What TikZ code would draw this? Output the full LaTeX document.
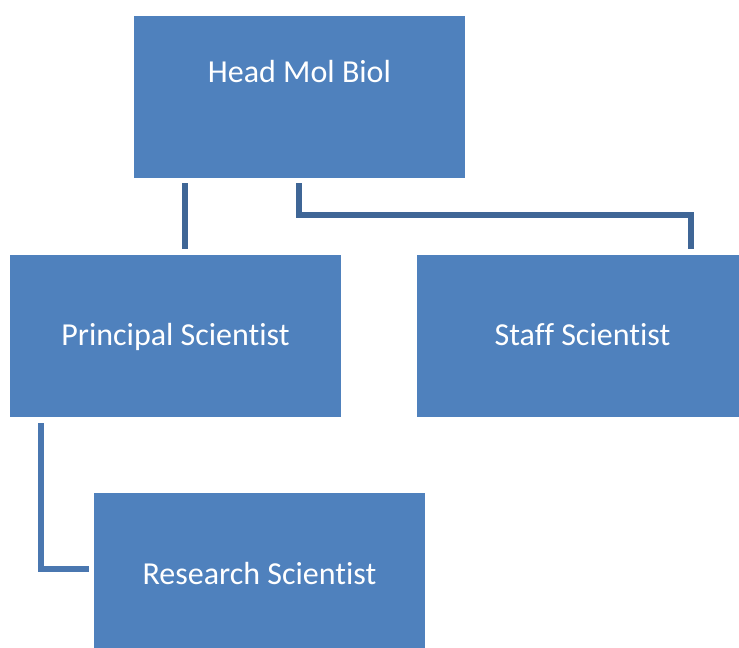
\documentclass[tikz,border=0pt]{standalone}
\usepackage{fontspec}
\setmainfont{Carlito}[Ligatures={NoCommon,NoRare,NoContextual}]
\definecolor{boxblue}{HTML}{4F81BD}
\definecolor{linedark}{HTML}{3F6696}
\definecolor{linelight}{HTML}{4A77B0}
\begin{document}
\begin{tikzpicture}[x=0.75pt,y=-0.75pt,
  orgbox/.style={fill=boxblue,draw=none},
  lbl/.style={text=white,font=\fontsize{24}{28}\selectfont,inner sep=0pt,anchor=base},
  conn/.style={line width=3.8pt,line join=miter}]
\useasboundingbox (0,0) rectangle (739,647);
\begin{scope}
\clip (0,0) rectangle (739,647);
\path[orgbox] (134,16) rectangle (465,178);
\path[orgbox] (10,255) rectangle (341,417);
\path[orgbox] (417,255) rectangle (748,417);
\path[orgbox] (94,493) rectangle (425,655);
\end{scope}
\node[lbl] (head) at (299.5,82) {Head Mol Biol};
\node[lbl] (prin) at (175.5,345) {Principal Scientist};
\node[lbl] (staff) at (582.5,345) {Staff Scientist};
\node[lbl] (res) at (259.5,584) {Research Scientist};
\coordinate (a1) at (185,183);
\coordinate (a2) at (185,249);
\coordinate (b1) at (299,183);
\coordinate (b2) at (691,249);
\coordinate (c1) at (41,423);
\coordinate (c2) at (89,569);
\draw[conn,linedark] (a1) -- (a2);
\draw[conn,linedark] (b1) |- (691,215) -- (b2);
\draw[conn,linelight] (c1) |- (c2);
\end{tikzpicture}
\end{document}
